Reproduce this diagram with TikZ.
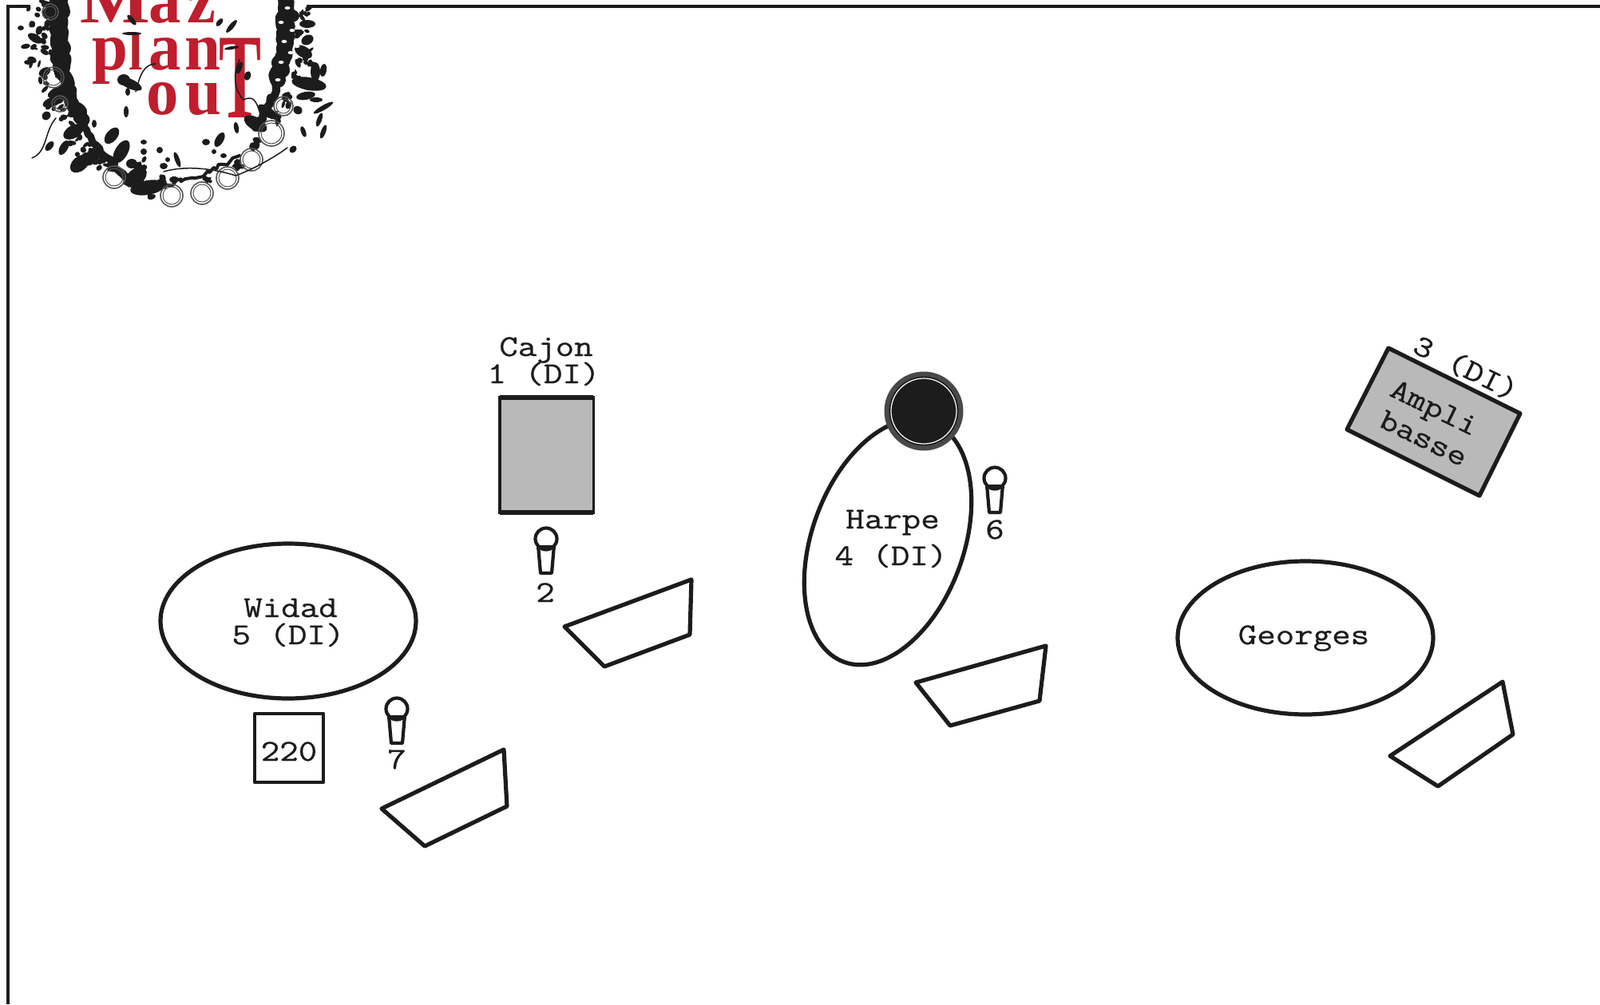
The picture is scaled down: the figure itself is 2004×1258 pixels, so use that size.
\documentclass[tikz,border=0pt]{standalone}
\usepackage{fontspec}
\setmainfont{Liberation Serif}
\newfontfamily\typeface[FakeStretch=1.2,FakeBold=0.7]{Latin Modern Mono}
\usetikzlibrary{decorations.pathmorphing,shapes.geometric}
\definecolor{ink}{HTML}{1C1C1C}
\definecolor{boxgrey}{HTML}{B9B9B9}
\definecolor{logored}{HTML}{BE1E2D}
\tikzset{
  x=1pt,y=-1pt,
  outline/.style={draw=ink,line width=5.2pt,line join=round},
  person/.style={outline,fill=white},
  wedge/.style={outline,fill=white},
  lab/.style={font=\typeface\fontsize{38}{38}\selectfont,text=ink,inner sep=0pt,align=center,anchor=base},
  logoletter/.style={font=\bfseries\fontsize{85}{85}\selectfont,text=logored,inner sep=0pt,anchor=base,xscale=0.95},
  band/.style={draw=ink,line cap=round,line join=round,decorate,decoration={random steps,segment length=5pt,amplitude=3pt}},
  leaf/.style={fill=ink,draw=none},
  loopring/.style={draw=ink!75,line width=1.6pt},
  vine/.style={draw=ink,line width=1.5pt,line cap=round},
  micpic/.pic={
    \draw[draw=ink,line width=4.2pt,fill=white,line join=round] (-10,8) -- (10,8) -- (7,43) -- (-7,43) -- cycle;
    \draw[draw=ink,line width=4.2pt,fill=white] (0,0) circle[radius=13.5];
    \fill[ink] (-12,8) rectangle (12,13);
  }
}
\begin{document}
\begin{tikzpicture}
\useasboundingbox (0,0) rectangle (2004,1258);
\fill[white] (0,0) rectangle (2004,1258);
% frame
\draw[draw=ink,line width=3.6pt] (10,1258) -- (10,8) -- (2004,8);
% logo
\fill[white] (38,0) rectangle (384,14);
\begin{scope}
\clip (0,0) rectangle (2004,1258);
\node[logoletter,xscale=1.15] (mazM) at (144,28) {M};
\node[logoletter] (mazA) at (207,28) {a};
\node[logoletter] (mazZ) at (252,28) {z};
\node[logoletter] (plantP) at (138,87) {p};
\node[logoletter,font=\bfseries\fontsize{66}{66}\selectfont] (plantL) at (170,87) {l};
\node[logoletter] (plantA) at (207,87) {a};
\node[logoletter] (plantN) at (254,87) {n};
\node[logoletter,font=\bfseries\fontsize{152}{152}\selectfont,xscale=0.55] (plantT) at (301,147) {T};
\node[logoletter] (outO) at (204,143) {o};
\node[logoletter] (outU) at (255,143) {u};
% wreath band
\draw[band,line width=22pt] (74,0) -- (75,40) -- (77,85);
\draw[band,line width=17pt] (77,85) -- (88,125) -- (104,150);
\draw[band,line width=9pt] (104,150) -- (125,190) -- (150,215);
\draw[band,line width=10pt] (150,215) -- (185,235) -- (205,232);
\draw[band,line width=4pt] (205,232) -- (250,222) -- (300,195);
\draw[band,line width=10pt] (320,160) -- (338,130) -- (348,100);
\draw[band,line width=20pt] (348,100) -- (356,60) -- (358,0);
% scattered foliage along the wreath
\pgfmathsetseed{4217}
\foreach \a/\b/\sp in {45/20/16, 55/45/16, 50/70/14, 60/100/12, 70/130/10, 85/150/9, 95/170/10, 105/190/9, 120/205/8,
  140/205/7, 165/225/9, 190/240/8, 175/205/6, 205/225/4, 260/225/4, 300/205/4, 322/180/6, 345/150/8, 360/125/8,
  375/100/10, 380/70/10, 375/40/10, 380/15/8}{
  \foreach \k in {1,...,7}{
    \pgfmathsetmacro{\px}{\a+\sp*rand}
    \pgfmathsetmacro{\py}{\b+\sp*rand}
    \pgfmathsetmacro{\ra}{2+4*rnd}
    \pgfmathsetmacro{\rb}{1.5+2.5*rnd}
    \pgfmathsetmacro{\rr}{180*rnd}
    \fill[leaf,rotate around={\rr:(\px,\py)}] (\px,\py) ellipse[x radius=\ra,y radius=\rb];
  }
}
% foliage
\foreach \a/\b/\c/\d/\e in {
 26/35/4/3/0, 49/38/4/6/-20, 32/58/6/3/10, 44/48/10/5/-30, 40/75/6/4/-20,
 56/90/8/5/30, 64/14/12/8/30, 65/128/12/6/20, 58/145/6/5/45, 35/78/5/3/0,
 75/115/16/7/20, 90/130/5/4/0, 62/183/7/4/50, 118/155/3/5/0, 92/165/14/8/30,
 80/185/10/5/60, 115/195/14/7/50, 100/205/14/9/40, 140/170/12/7/50, 152/190/16/8/60,
 180/190/4/4/0, 200/188/4/4/0, 180/178/4/3/0, 165/205/7/6/0,
 170/222/16/10/40, 185/235/22/9/10, 210/200/3/3/0, 222/200/10/3/-70,
 205/208/5/4/0, 218/225/6/4/0, 258/178/5/4/0, 275/175/10/5/60, 268/190/3/3/0,
 280/195/4/3/0, 296/160/3/7/10, 320/155/16/8/-30, 335/140/14/6/-35,
 405/88/4/8/-10, 392/82/3/5/0, 387/105/22/8/-10, 395/90/6/12/0, 383/120/12/5/10,
 373/138/6/5/-30, 405/135/14/3/30, 400/150/3/9/-20, 396/125/8/3/0,
 405/165/3/9/-20, 380/165/3/7/20, 367/187/5/4/45, 385/30/10/5/0,
 380/65/12/7/-30, 385/50/8/6/30, 365/20/10/8/0, 290/33/10/3/50, 163/105/16/6/-25,
 155/100/8/7/0, 160/115/3/5/0, 158/140/3/7/0, 275/28/3/6/-40,165/25/8/3/-50,
 165/42/12/2/0, 290/60/9/2/10, 300/85/3/8/-20, 310/95/4/6/-20, 60/5/12/3/-20}
 {\fill[leaf,rotate around={\e:(\a,\b)}] (\a,\b) ellipse[x radius=\c,y radius=\d];}
% pale specks in the right band
\foreach \a/\b in {360/10,352/28,366/38,356/52,364/66,372/58,352/78,366/88,348/100}
 {\fill[white] (\a,\b) ellipse[x radius=3.5,y radius=2];}
% rings
\foreach \a/\b/\r in {143/222/14, 215/245/14, 253/242/14, 285/223/14, 315/200/14, 340/167/16, 355/133/12, 67/97/13, 75/130/10, 63/15/10}
 {\draw[loopring] (\a,\b) circle[radius=\r]; \draw[loopring,line width=1pt] (\a,\b) circle[radius=\r-3];}
% vines
\draw[vine] (40,198) .. controls (60,190) and (55,165) .. (70,148);
\draw[vine] (170,115) .. controls (175,95) and (180,80) .. (195,80);
\draw[vine] (300,75) .. controls (290,95) and (295,115) .. (305,125) .. controls (320,118) and (322,130) .. (328,150);
\draw[vine] (205,215) .. controls (240,205) and (280,215) .. (295,220) .. controls (310,215) and (340,200) .. (360,185);
\end{scope}
% Cajon
\node[draw=none,fill=boxgrey,minimum width=117pt,minimum height=144pt,inner sep=0pt] (cajonbox) at (684.5,570) {};
\draw[draw=ink,line width=3.4pt] (cajonbox.south west) rectangle (cajonbox.north east);
\draw[draw=ink,line width=6pt] (cajonbox.north west) -- (cajonbox.north east) (cajonbox.south west) -- (cajonbox.south east);
\node[lab] (cajon) at (684,446) {Cajon};
\node[lab] (di1) at (681,480) {1 (DI)};
\pic at (684,675) {micpic};
\node[lab] (n2) at (683,754) {2};
\draw[wedge] (707,785) -- (866,726) -- (864,795) -- (757,835) -- cycle;
% Widad
\node[person,ellipse,minimum width=320pt,minimum height=194pt,inner sep=0pt] (widadshape) at (361,778) {};
\node[lab] (widad) at (364,773) {Widad};
\node[lab] (di5) at (361,807) {5 (DI)};
\node[outline,line width=4.2pt,minimum width=86pt,minimum height=86pt,inner sep=0pt] (powerbox) at (362,937) {};
\node[lab] (p220) at (362,953) {220};
\pic at (497,888) {micpic};
\node[lab] (n7) at (497,963) {7};
\draw[wedge] (478,1013) -- (631,939) -- (635,1010) -- (532,1060) -- cycle;
% Harpe
\draw[outline,rotate around={-20:(1112,679)}] (1112,679) ellipse[x radius=95,y radius=160];
\node[circle,draw=ink!80,line width=6pt,fill=ink,minimum size=93pt,inner sep=0pt] (harpehead) at (1157,515) {};
\draw[white,line width=1.2pt] (harpehead.center) circle[radius=41];
\node[lab] (harpe) at (1118,662) {Harpe};
\node[lab] (di4) at (1116,708) {4 (DI)};
\pic at (1246,599) {micpic};
\node[lab] (n6) at (1246,675) {6};
\draw[wedge] (1147,855) -- (1310,809) -- (1302,878) -- (1190,909) -- cycle;
% Georges
\node[person,ellipse,minimum width=320pt,minimum height=192pt,inner sep=0pt] (georgesshape) at (1635,799) {};
\node[lab] (georges) at (1633,807) {Georges};
\draw[wedge] (1741,947) -- (1882,854) -- (1895,920) -- (1801,985) -- cycle;
% Ampli
\draw[outline,fill=boxgrey] (1739,436) -- (1904,518) -- (1853,621) -- (1687,538) -- cycle;
\node[lab,rotate=-26,anchor=center] (ampli) at (1795,514) {Ampli};
\node[lab,rotate=-26,anchor=center] (basse) at (1783,549) {basse};
\node[lab,rotate=-26,anchor=center] (di3) at (1836,461) {3 (DI)};
\end{tikzpicture}
\end{document}
